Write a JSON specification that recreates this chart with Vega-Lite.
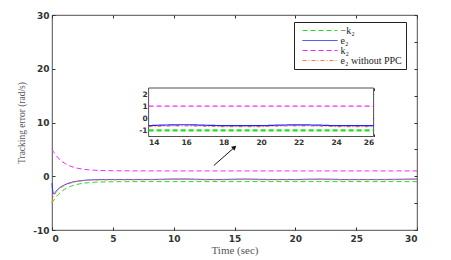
{
  "$schema": "https://vega.github.io/schema/vega-lite/v6.json",
  "autosize": "none",
  "width": 365,
  "height": 215,
  "padding": {"left": 52, "top": 15, "right": 34, "bottom": 30},
  "background": "white",
  "config": {
    "view": {"stroke": "#222", "strokeWidth": 0.8},
    "axis": {"grid": false, "domain": false, "labelFont": "DejaVu Sans", "labelFontWeight": "bold", "labelColor": "#333", "tickColor": "#333", "titleFont": "Liberation Serif", "titleFontWeight": "normal", "titleColor": "#555", "labelExpr": "replace(datum.label, '−', '-')"}
  },
  "datasets": {
    "curves": [
      {"t": 0, "nk2": -5, "e2": -1.3, "k2": 5, "e2n": -5},
      {"t": 0.05, "nk2": -4.805, "e2": -2.5, "k2": 4.805, "e2n": -4.5},
      {"t": 0.1, "nk2": -4.619, "e2": -3.1, "k2": 4.619, "e2n": -4.0},
      {"t": 0.15, "nk2": -4.443, "e2": -3.3, "k2": 4.443, "e2n": -3.75},
      {"t": 0.2, "nk2": -4.275, "e2": -3.2, "k2": 4.275, "e2n": -3.5},
      {"t": 0.3, "nk2": -3.963, "e2": -2.9, "k2": 3.963, "e2n": -3.1},
      {"t": 0.5, "nk2": -3.426, "e2": -2.4, "k2": 3.426, "e2n": -2.6},
      {"t": 0.75, "nk2": -2.889, "e2": -1.95, "k2": 2.889, "e2n": -2.1},
      {"t": 1, "nk2": -2.472, "e2": -1.65, "k2": 2.472, "e2n": -1.75},
      {"t": 1.25, "nk2": -2.146, "e2": -1.4, "k2": 2.146, "e2n": -1.5},
      {"t": 1.5, "nk2": -1.893, "e2": -1.2, "k2": 1.893, "e2n": -1.3},
      {"t": 2, "nk2": -1.541, "e2": -0.95, "k2": 1.541, "e2n": -1.0},
      {"t": 2.5, "nk2": -1.328, "e2": -0.8, "k2": 1.328, "e2n": -0.85},
      {"t": 3, "nk2": -1.199, "e2": -0.7, "k2": 1.199, "e2n": -0.76},
      {"t": 3.5, "nk2": -1.121, "e2": -0.65, "k2": 1.121, "e2n": -0.72},
      {"t": 4, "nk2": -1.073, "e2": -0.62, "k2": 1.073, "e2n": -0.7},
      {"t": 5, "nk2": -1.027, "e2": -0.6, "k2": 1.027, "e2n": -0.68},
      {"t": 6, "nk2": -1.01, "e2": -0.6, "k2": 1.01, "e2n": -0.68},
      {"t": 7, "nk2": -1.004, "e2": -0.6, "k2": 1.004, "e2n": -0.68},
      {"t": 8, "nk2": -1.001, "e2": -0.6, "k2": 1.001, "e2n": -0.67},
      {"t": 9, "nk2": -1, "e2": -0.57, "k2": 1, "e2n": -0.64},
      {"t": 10, "nk2": -1, "e2": -0.52, "k2": 1, "e2n": -0.6},
      {"t": 11, "nk2": -1, "e2": -0.52, "k2": 1, "e2n": -0.6},
      {"t": 12, "nk2": -1, "e2": -0.57, "k2": 1, "e2n": -0.65},
      {"t": 13, "nk2": -1, "e2": -0.6, "k2": 1, "e2n": -0.68},
      {"t": 14, "nk2": -1, "e2": -0.6, "k2": 1, "e2n": -0.68},
      {"t": 15, "nk2": -1, "e2": -0.55, "k2": 1, "e2n": -0.64},
      {"t": 16, "nk2": -1, "e2": -0.53, "k2": 1, "e2n": -0.62},
      {"t": 17, "nk2": -1, "e2": -0.57, "k2": 1, "e2n": -0.66},
      {"t": 18, "nk2": -1, "e2": -0.6, "k2": 1, "e2n": -0.68},
      {"t": 19, "nk2": -1, "e2": -0.6, "k2": 1, "e2n": -0.68},
      {"t": 20, "nk2": -1, "e2": -0.6, "k2": 1, "e2n": -0.68},
      {"t": 21, "nk2": -1, "e2": -0.56, "k2": 1, "e2n": -0.64},
      {"t": 22, "nk2": -1, "e2": -0.54, "k2": 1, "e2n": -0.62},
      {"t": 23, "nk2": -1, "e2": -0.56, "k2": 1, "e2n": -0.64},
      {"t": 24, "nk2": -1, "e2": -0.6, "k2": 1, "e2n": -0.68},
      {"t": 25, "nk2": -1, "e2": -0.6, "k2": 1, "e2n": -0.68},
      {"t": 26, "nk2": -1, "e2": -0.6, "k2": 1, "e2n": -0.68},
      {"t": 27, "nk2": -1, "e2": -0.6, "k2": 1, "e2n": -0.67},
      {"t": 28, "nk2": -1, "e2": -0.58, "k2": 1, "e2n": -0.65},
      {"t": 29, "nk2": -1, "e2": -0.55, "k2": 1, "e2n": -0.62},
      {"t": 30, "nk2": -1, "e2": -0.52, "k2": 1, "e2n": -0.6}
    ]
  },
  "resolve": {"scale": {"x": "independent", "y": "independent", "color": "shared", "strokeDash": "shared"}, "axis": {"x": "independent", "y": "independent"}},
  "layer": [
    {
      "layer": [
        {
          "data": {"name": "curves"},
          "transform": [{"fold": ["nk2", "e2", "k2", "e2n"], "as": ["series", "v"]}],
          "mark": {"type": "line", "strokeWidth": 1, "interpolate": "monotone"},
          "encoding": {
            "x": {"field": "t", "type": "quantitative", "scale": {"domain": [0, 30], "nice": false, "zero": false},
              "axis": {"orient": "bottom", "values": [0, 5, 10, 15, 20, 25, 30], "tickSize": -3, "labelPadding": 7, "labelFontSize": 9, "title": "Time (sec)", "titleFontSize": 11, "titlePadding": 1}},
            "y": {"field": "v", "type": "quantitative", "scale": {"domain": [-10, 30], "nice": false, "zero": false},
              "axis": {"orient": "left", "values": [-10, -5, 0, 5, 10, 15, 20, 25, 30], "tickSize": -3, "labelPadding": 6, "labelFontSize": 9, "title": "Tracking error (rad/s)", "titleFontSize": 9.5, "titlePadding": 6}},
            "color": {"field": "series", "type": "nominal",
              "scale": {"domain": ["nk2", "e2", "k2", "e2n"], "range": ["#22e022", "#2222ff", "#ff22ff", "#ff7a4a"]},
              "legend": {"title": null, "orient": "none", "legendX": 242, "legendY": 7, "labelExpr": "datum.value == 'nk2' ? '−k₂' : datum.value == 'e2' ? 'e₂' : datum.value == 'k2' ? 'k₂' : 'e₂ without PPC'",
                "symbolType": "M0,0H10", "symbolSize": 49, "symbolStrokeWidth": 1, "labelFont": "Liberation Serif", "labelFontSize": 10, "labelColor": "#222", "labelOffset": 33, "rowPadding": -2.8,
                "strokeColor": "#222", "fillColor": "white", "padding": 3.5, "cornerRadius": 0}},
            "strokeDash": {"field": "series", "type": "nominal",
              "scale": {"domain": ["nk2", "e2", "k2", "e2n"], "range": [[5, 3], [1, 0], [5, 3], [4, 2, 1, 2]]},
              "legend": null}
          }
        },
        {
          "data": {"values": [{}]},
          "mark": {"type": "rule", "color": "#111", "strokeWidth": 1},
          "encoding": {
            "x": {"datum": 13.3, "type": "quantitative"},
            "y": {"datum": 2.0, "type": "quantitative"},
            "x2": {"datum": 15.06},
            "y2": {"datum": 5.5}
          }
        },
        {
          "data": {"values": [{}]},
          "mark": {"type": "point", "shape": "triangle-up", "filled": true, "color": "#111", "size": 28, "angle": 49, "opacity": 1},
          "encoding": {
            "x": {"datum": 15.0, "type": "quantitative"},
            "y": {"datum": 5.4, "type": "quantitative"}
          }
        }
      ]
    },
    {
      "data": {"values": [{"a": 0, "b": 0}]},
      "mark": {"type": "point", "opacity": 0},
      "encoding": {
        "x": {"field": "a", "type": "quantitative", "scale": {"domain": [0, 30], "nice": false, "zero": false},
          "axis": {"orient": "top", "values": [0, 5, 10, 15, 20, 25, 30], "tickSize": -3, "labels": false, "title": null}},
        "y": {"field": "b", "type": "quantitative", "scale": {"domain": [-10, 30], "nice": false, "zero": false},
          "axis": {"orient": "right", "values": [-10, -5, 0, 5, 10, 15, 20, 25, 30], "tickSize": -3, "labels": false, "title": null}}
      }
    },
    {
      "layer": [
        {
          "data": {"values": [{}]},
          "mark": {"type": "rect", "fill": "white", "stroke": "#222", "strokeWidth": 0.8},
          "encoding": {
            "x": {"datum": 14, "type": "quantitative", "scale": {"domain": [14, 26], "range": [96.6, 321.6], "nice": false, "zero": false},
              "axis": {"orient": "bottom", "offset": -93.5, "values": [14, 16, 18, 20, 22, 24, 26], "format": "d", "tickSize": -2.5, "labelPadding": 4.5, "labelFontSize": 7.5, "title": null}},
            "x2": {"datum": 26},
            "y": {"datum": -1.5, "type": "quantitative", "scale": {"domain": [-1.5, 2.5], "range": [121.5, 73], "nice": false, "zero": false},
              "axis": {"orient": "left", "offset": -96.6, "values": [-1, 0, 1, 2], "format": "d", "tickSize": -2.5, "labelPadding": 4, "labelFontSize": 7.5, "title": null}},
            "y2": {"datum": 2.5}
          }
        },
        {
          "data": {"name": "curves"},
          "transform": [{"filter": "datum.t >= 14 && datum.t <= 26"}, {"fold": ["nk2"], "as": ["series", "v"]}],
          "mark": {"type": "line", "interpolate": "monotone", "strokeWidth": 2.2},
          "encoding": {
            "x": {"field": "t", "type": "quantitative"},
            "y": {"field": "v", "type": "quantitative"},
            "color": {"field": "series", "type": "nominal", "legend": null},
            "strokeDash": {"field": "series", "type": "nominal", "legend": null}
          }
        },
        {
          "data": {"name": "curves"},
          "transform": [{"filter": "datum.t >= 14 && datum.t <= 26"}, {"fold": ["e2n", "k2", "e2"], "as": ["series", "v"]}],
          "mark": {"type": "line", "interpolate": "monotone", "strokeWidth": 1.2},
          "encoding": {
            "x": {"field": "t", "type": "quantitative"},
            "y": {"field": "v", "type": "quantitative"},
            "color": {"field": "series", "type": "nominal", "legend": null},
            "strokeDash": {"field": "series", "type": "nominal", "legend": null}
          }
        }
      ]
    },
    {
      "data": {"values": [{"a": 20, "b": 0}]},
      "mark": {"type": "point", "opacity": 0},
      "encoding": {
        "x": {"field": "a", "type": "quantitative", "scale": {"domain": [14, 26], "range": [96.6, 321.6], "nice": false, "zero": false},
          "axis": {"orient": "top", "offset": -73, "values": [14, 16, 18, 20, 22, 24, 26], "tickSize": -2.5, "labels": false, "domain": false, "title": null}},
        "y": {"field": "b", "type": "quantitative", "scale": {"domain": [-1.5, 2.5], "range": [121.5, 73], "nice": false, "zero": false},
          "axis": {"orient": "right", "offset": -43.4, "values": [-1, 0, 1, 2], "tickSize": -2.5, "labels": false, "title": null}}
      }
    }
  ]
}
